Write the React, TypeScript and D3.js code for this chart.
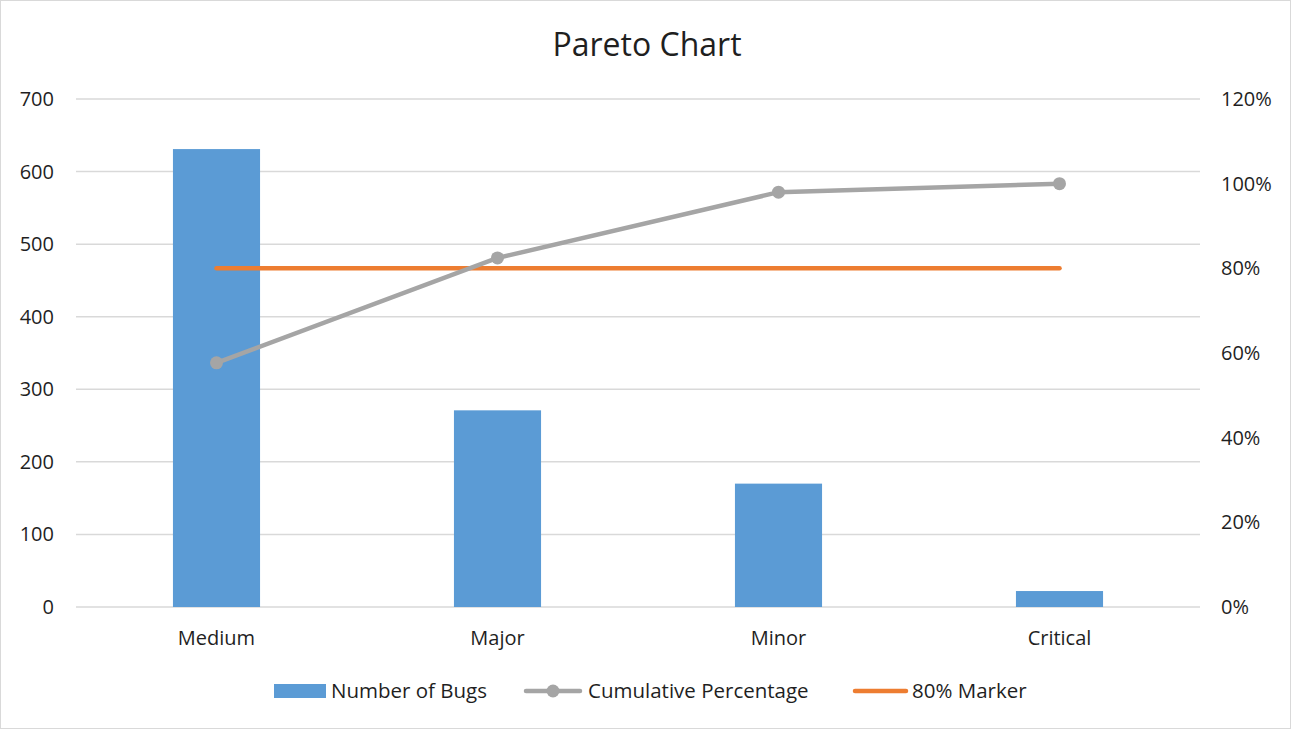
import React from "react";
import * as d3 from "d3";

// Bug counts by severity, sorted descending
const categories = ["Medium", "Major", "Minor", "Critical"];
const bugCounts = [631, 271, 170, 22];
const markerPercent = 0.8;
const leftTicks = [0, 100, 200, 300, 400, 500, 600, 700];
const rightTicks = [0, 0.2, 0.4, 0.6, 0.8, 1.0, 1.2];
const legendLabels = ["Number of Bugs", "Cumulative Percentage", "80% Marker"];

const W = 1291;
const H = 729;
const FONT = "'Open Sans', 'Noto Sans', sans-serif";
const TEXT = "#1f1f1f";
const BLUE = "#5B9BD5";
const GRAY = "#A5A5A5";
const ORANGE = "#ED7D31";
const FS = 20;
const LEGEND_FS = 20.5;

export default function App() {
  const margin = { left: 76, right: 91, top: 99, bottom: 122 };
  const x = d3
    .scaleBand<string>()
    .domain(categories)
    .range([margin.left, W - margin.right])
    .paddingInner(0.69)
    .paddingOuter(0.345);
  const band = d3.scaleBand<string>().domain(categories).range([margin.left, W - margin.right]);
  const yL = d3.scaleLinear().domain([0, 700]).range([H - margin.bottom, margin.top]);
  const yR = d3.scaleLinear().domain([0, 1.2]).range([H - margin.bottom, margin.top]);

  const total = d3.sum(bugCounts);
  const cumulative: number[] = Array.from(d3.cumsum(bugCounts), (c) => c / total);
  const cx = (c: string) => (band(c) as number) + band.bandwidth() / 2;

  const cumLine = d3
    .line<number>()
    .x((_, i) => cx(categories[i]))
    .y((d) => yR(d));

  const markerLine = d3
    .line<number>()
    .x((_, i) => cx(categories[i]))
    .y(() => yR(markerPercent));

  const legendY = 691;

  return (
    <svg
      width={W}
      height={H}
      style={{ position: "absolute", left: 0, top: 0, background: "#fff" }}
      fontFamily={FONT}
    >
      <rect x={0.5} y={0.5} width={W - 1} height={H - 1} fill="#fff" stroke="#D9D9D9" />
      <text x={647} y={56} textAnchor="middle" fontSize={32} fill={TEXT}>
        Pareto Chart
      </text>

      {leftTicks.map((t) => (
        <line
          key={t}
          x1={margin.left}
          x2={W - margin.right}
          y1={yL(t)}
          y2={yL(t)}
          stroke="#D9D9D9"
          strokeWidth={1.5}
        />
      ))}
      {leftTicks.map((t) => (
        <text key={t} x={54} y={yL(t) + 7} textAnchor="end" fontSize={FS} fill={TEXT}>
          {t}
        </text>
      ))}
      {rightTicks.map((t) => (
        <text key={t} x={1221} y={yR(t) + 7} textAnchor="start" fontSize={FS} fill={TEXT}>
          {d3.format(".0%")(t)}
        </text>
      ))}

      {categories.map((c, i) => (
        <rect
          key={c}
          x={x(c)}
          y={yL(bugCounts[i])}
          width={x.bandwidth()}
          height={yL(0) - yL(bugCounts[i])}
          fill={BLUE}
        />
      ))}

      {categories.map((c) => (
        <text key={c} x={cx(c)} y={645} textAnchor="middle" fontSize={FS} fill={TEXT}>
          {c}
        </text>
      ))}

      <path
        d={markerLine(cumulative) as string}
        fill="none"
        stroke={ORANGE}
        strokeWidth={4.5}
        strokeLinecap="round"
      />
      <path
        d={cumLine(cumulative) as string}
        fill="none"
        stroke={GRAY}
        strokeWidth={4.5}
        strokeLinecap="round"
      />
      {cumulative.map((v, i) => (
        <circle key={i} cx={cx(categories[i])} cy={yR(v)} r={6.5} fill={GRAY} />
      ))}

      {/* legend */}
      <rect x={274} y={legendY - 7} width={52} height={14} fill={BLUE} />
      <text x={331} y={legendY + 7} fontSize={LEGEND_FS} fill={TEXT}>
        {legendLabels[0]}
      </text>
      <line x1={526} x2={580} y1={legendY} y2={legendY} stroke={GRAY} strokeWidth={4.5} strokeLinecap="round" />
      <circle cx={553} cy={legendY} r={6.5} fill={GRAY} />
      <text x={588} y={legendY + 7} fontSize={LEGEND_FS} fill={TEXT}>
        {legendLabels[1]}
      </text>
      <line x1={855} x2={906} y1={legendY} y2={legendY} stroke={ORANGE} strokeWidth={4.5} strokeLinecap="round" />
      <text x={912} y={legendY + 7} fontSize={LEGEND_FS} fill={TEXT}>
        {legendLabels[2]}
      </text>
    </svg>
  );
}
